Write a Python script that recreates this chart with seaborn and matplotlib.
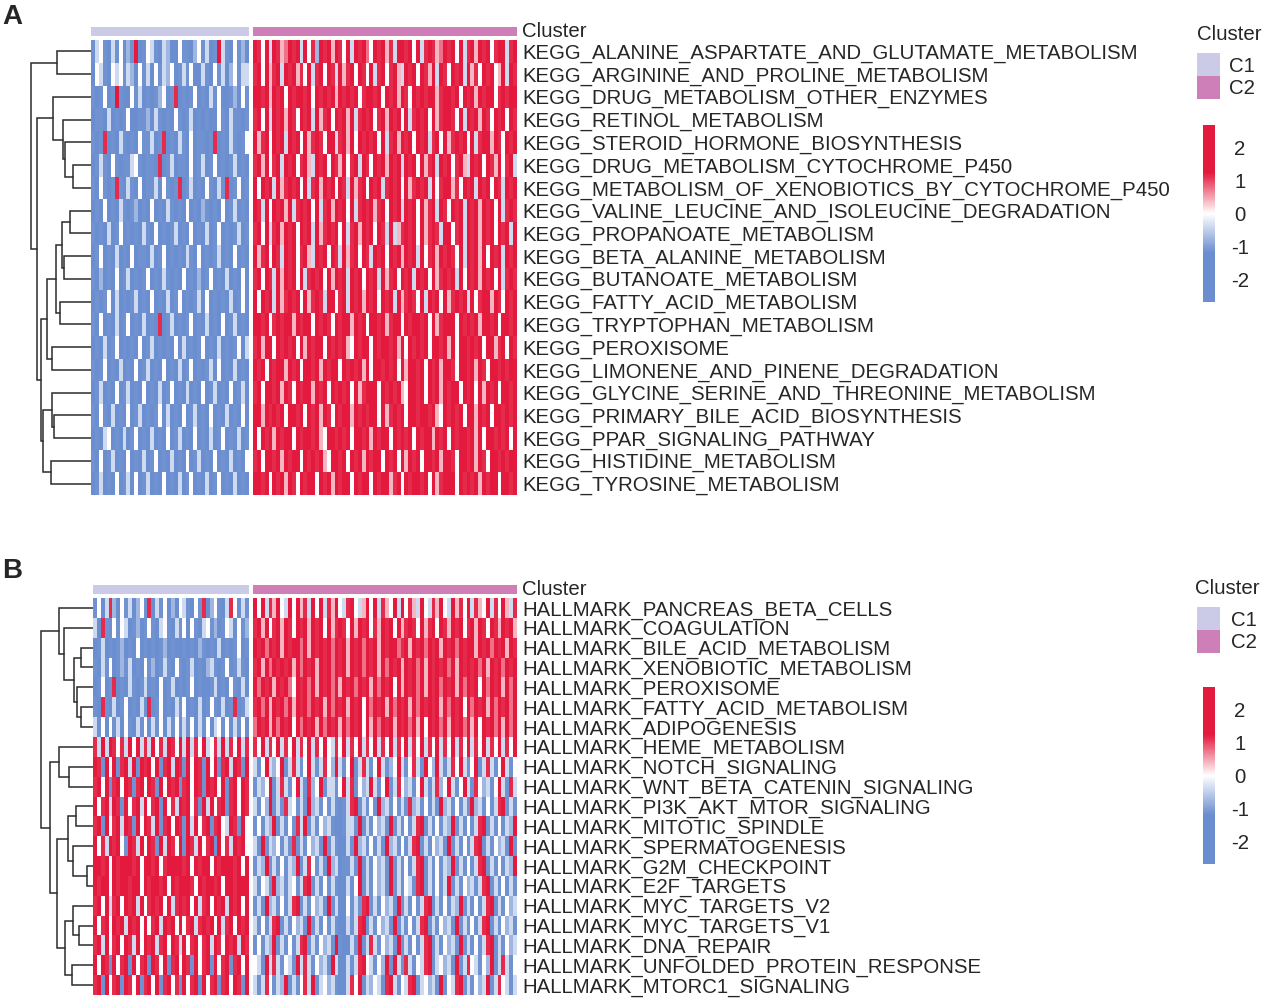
import numpy as np
import matplotlib
matplotlib.use("Agg")
import matplotlib.pyplot as plt
import seaborn as sns
from matplotlib.colors import LinearSegmentedColormap, ListedColormap, Normalize
from matplotlib.cm import ScalarMappable
from matplotlib.patches import Rectangle

# ---- data -------------------------------------------------------------
# cell values, one digit per sample column:
# digit d -> z = (d - 4) * 0.38, so 0 = deep blue, 4 = white, 8 = deep red
# (spaces only for reading)
kegg_names = [
    "KEGG_ALANINE_ASPARTATE_AND_GLUTAMATE_METABOLISM",
    "KEGG_ARGININE_AND_PROLINE_METABOLISM",
    "KEGG_DRUG_METABOLISM_OTHER_ENZYMES",
    "KEGG_RETINOL_METABOLISM",
    "KEGG_STEROID_HORMONE_BIOSYNTHESIS",
    "KEGG_DRUG_METABOLISM_CYTOCHROME_P450",
    "KEGG_METABOLISM_OF_XENOBIOTICS_BY_CYTOCHROME_P450",
    "KEGG_VALINE_LEUCINE_AND_ISOLEUCINE_DEGRADATION",
    "KEGG_PROPANOATE_METABOLISM",
    "KEGG_BETA_ALANINE_METABOLISM",
    "KEGG_BUTANOATE_METABOLISM",
    "KEGG_FATTY_ACID_METABOLISM",
    "KEGG_TRYPTOPHAN_METABOLISM",
    "KEGG_PEROXISOME",
    "KEGG_LIMONENE_AND_PINENE_DEGRADATION",
    "KEGG_GLYCINE_SERINE_AND_THREONINE_METABOLISM",
    "KEGG_PRIMARY_BILE_ACID_BIOSYNTHESIS",
    "KEGG_PPAR_SIGNALING_PATHWAY",
    "KEGG_HISTIDINE_METABOLISM",
    "KEGG_TYROSINE_METABOLISM",
]

kegg_c1 = [
    "1341031402 1801431032 0041102413 0183104120",
    "0431043413 2041304132 4013140031 0413024133",
    "1014018100 4130101240 1701014010 3140012041",
    "0110301014 0011203101 0410130101 0041031101",
    "1017010310 1041130170 1031040110 1701031014",
    "0131041011 3410110701 3011040130 1401013010",
    "1041017103 1040113041 0170130104 1031701401",
    "0104010310 1201040103 1010401021 0104013010",
    "1010301401 0103104010 1301040103 0140101301",
    "0140103010 4011030140 1010310401 0130104010",
    "1020104013 0101401031 0104010201 4010301040",
    "0101403010 1301040103 0140101304 0101030140",
    "1040103014 0103010701 3010140103 0104013010",
    "0103014010 1040130101 0403010140 1030101403",
    "1014010301 0401301040 1030140101 3040103010",
    "0130104013 0104010301 4010301040 1301040130",
    "1041030104 0130101403 0104013010 4010301040",
    "0103401030 1401030104 0130104010 3014010301",
    "1040130104 0103014010 3010401301 0401030104",
    "0130104013 0401301040 1030140103 0140103010",
]

kegg_c2 = [
    "8748387568 7838472878 5874838786 4878573887 8483787568 7848378587 84788378",
    "7848578387 8574837848 7385784874 8378478538 7848758387 4878385748 78458387",
    "8878587848 7887848787 8587878478 8784878587 4878788578 8784878587 88478788",
    "7848387858 7487838578 4878583787 8478587848 3787848578 8748387858 74878487",
    "8578487838 7848578748 8378584878 7848378587 8487837848 5787848378 85874878",
    "7858478387 8478538784 8758478387 4878587838 7848578387 8478538784 87584783",
    "8487838578 7848378587 8487385784 8783787848 5787838478 8574878387 84873878",
    "8738487858 3787848378 5878483787 8578487838 7848578387 4878387858 78483787",
    "7848378587 8487838578 7848378587 8487383578 7848578738 8478387858 78487838",
    "8578487387 8478538784 8738578487 3878487858 7838478587 8748387858 48783878",
    "7848738587 8483787848 5878387848 7838578487 8387848578 7838487858 78483787",
    "8487838578 7848578738 8478387858 7848783857 8748387848 5787838478 85874878",
    "8878478788 5878848787 4878858784 8878578848 7887848578 8848787858 87848878",
    "7858848787 8485878848 7878548788 4878878584 8787848878 5848878784 88578487",
    "8784878858 7848878587 8848787858 4887878485 8878487858 8748878587 48878788",
    "7848878587 4878858784 8787848578 8848787854 8878487858 7884878485 87848878",
    "8858787848 8784878587 4878858787 8848578784 8878878548 7878488587 84887878",
    "8487858788 4878878548 8787848878 5878848787 8487885878 4878878584 88787848",
    "7848878587 8848787854 8878487858 7884878485 8784887858 8748878587 48878788",
    "8878487858 7487884878 5878848788 4878857848 7887848578 8848787858 78848878",
]

# row tree (left child, right child, merge height); leaves 0..19, new nodes 20..
kegg_tree = [
    (0, 1, 34), (5, 6, 18), (4, 21, 26), (3, 22, 28), (2, 23, 38),
    (7, 8, 21), (9, 10, 27), (25, 26, 29.3), (11, 12, 31), (27, 28, 35),
    (13, 14, 39), (29, 30, 44.3), (16, 17, 37), (15, 32, 39), (18, 19, 40),
    (33, 34, 48.5), (31, 35, 50.3), (24, 36, 54.5), (20, 37, 60),
]

hallmark_names = [
    "HALLMARK_PANCREAS_BETA_CELLS",
    "HALLMARK_COAGULATION",
    "HALLMARK_BILE_ACID_METABOLISM",
    "HALLMARK_XENOBIOTIC_METABOLISM",
    "HALLMARK_PEROXISOME",
    "HALLMARK_FATTY_ACID_METABOLISM",
    "HALLMARK_ADIPOGENESIS",
    "HALLMARK_HEME_METABOLISM",
    "HALLMARK_NOTCH_SIGNALING",
    "HALLMARK_WNT_BETA_CATENIN_SIGNALING",
    "HALLMARK_PI3K_AKT_MTOR_SIGNALING",
    "HALLMARK_MITOTIC_SPINDLE",
    "HALLMARK_SPERMATOGENESIS",
    "HALLMARK_G2M_CHECKPOINT",
    "HALLMARK_E2F_TARGETS",
    "HALLMARK_MYC_TARGETS_V2",
    "HALLMARK_MYC_TARGETS_V1",
    "HALLMARK_DNA_REPAIR",
    "HALLMARK_UNFOLDED_PROTEIN_RESPONSE",
    "HALLMARK_MTORC1_SIGNALING",
]

hallmark_c1 = [
    "1403720413 0241703140 2043104170 2410374031",
    "3071041430 1201410341 0314041034 1201430412",
    "0130101201 0401010120 1001010210 1030101401",
    "1031401213 0104120131 0410130102 3101401310",
    "0140170103 1013010401 3010140100 1301041030",
    "1071030140 1031701401 0314010301 4103017013",
    "3140413041 0314031403 1403140314 0341403140",
    "7383874738 4837384738 7483837483 4738374837",
    "8718481783 8187848178 3871848718 4817838718",
    "7848178487 1784871848 7817848718 7848178487",
    "8478387184 7838478184 7387847183 8478178487",
    "7818478387 1848738178 4871838478 1784387184",
    "8473878418 7384871838 7481873847 8184738784",
    "8878487888 7848878478 8887848788 4878887848",
    "8788487887 8848788784 8788874878 8784887888",
    "7848378487 8384787848 3787848378 4878387848",
    "8478487838 7848478387 8484783787 8483784878",
    "7838478487 3848783784 8738478478 3874878387",
    "8487184781 8478187481 7848718478 1847817848",
    "7818478187 4817848178 4718478184 7817848718",
]

hallmark_c2 = [
    "8483758438 4857384837 5843784358 4837548384 7538437584 3857483754 83748537",
    "7858478587 4878587848 5787485878 4758784857 8748578487 5878478587 48758785",
    "8786878587 8868587878 6878587868 7858788678 5878687858 7868788587 86878587",
    "7858687878 5868785878 6878587868 7858687858 7868587878 6858787868 58786878",
    "8687858786 4878685878 6858786878 5868784858 7868587868 7858687848 68785868",
    "7868587868 5878687858 6878587848 6878586878 5868787858 6878486878 58687868",
    "6878586878 4868785868 7858687848 5868785878 6858487868 5878685848 78685868",
    "7483748374 8374837484 3748374837 4837483748 3748374837 4837483748 37483748",
    "3148324813 7314831374 2831481373 1483124831 4731842831 3748314813 73148314",
    "1324813731 4831724813 3148371423 8314813742 3148313724 8314831742 31483173",
    "3142813173 4131823141 3101378131 4182314131 7231413182 3141318231 41378131",
    "1413281314 1738131423 1001331813 1423181314 1378131413 2813141378 13141328",
    "3181324131 7131423181 3100318231 4131823141 3781314231 8131413781 31423181",
    "1328131413 2813741318 2301131813 1423181314 1378131413 2813141378 13141328",
    "3143182313 4137813141 3100314813 1423181314 3178131413 8131423137 81314131",
    "1318231413 7813142318 1300413178 1314231813 1413781314 1328131413 78131423",
    "3141378131 4231813141 3100313781 3142318131 4137813142 3181314137 81314231",
    "1413281314 1378131423 1810031813 7314231813 1413781314 2318131413 78131423",
    "4318373143 1837314231 8300313784 3142818317 3143781342 3181374314 28137314",
    "3137413281 3147381342 3100374813 2431783143 7813423181 4378131423 81374313",
]

hallmark_tree = [
    (2, 3, 12), (5, 6, 12), (4, 21, 16), (20, 22, 19), (1, 23, 29),
    (0, 24, 34), (8, 9, 24), (7, 26, 34), (10, 11, 17), (13, 14, 6),
    (12, 29, 20), (28, 30, 25), (16, 17, 14), (15, 32, 20), (18, 19, 21),
    (33, 34, 28), (31, 35, 36), (27, 36, 43), (25, 37, 52),
]

cluster_names = ["C1", "C2"]
cluster_colors = ["#CBCBE8", "#CF7FB7"]
legend_ticks = [-2, -1, 0, 1, 2]

# ---- style ------------------------------------------------------------
sns.set_style("white")
plt.rcParams["font.family"] = ["Liberation Sans", "DejaVu Sans"]
FS = 14.7

W, H = 1262, 999
fig = plt.figure(figsize=(W / 100, H / 100), dpi=100)

vmin, vmax = -2.7, 2.7
blue, red = "#6A8ECF", "#E3193D"
span = vmax - vmin
cmap = LinearSegmentedColormap.from_list(
    "bwr_sat",
    [(0, blue), ((-1.2 - vmin) / span, blue), (0.5, "#FFFFFF"),
     ((1.25 - vmin) / span, red), (1, red)],
)
annot_cmap = ListedColormap(cluster_colors)


def px_axes(x0, y0, x1, y1):
    # axes from pixel box (top-left origin)
    return fig.add_axes([x0 / W, 1 - y1 / H, (x1 - x0) / W, (y1 - y0) / H])


def decode(rows):
    rows = ["".join(r.split()) for r in rows]
    n = min(len(r) for r in rows)
    return np.array([[(int(ch) - 4) * 0.38 for ch in r[:n]] for r in rows])


def draw_dendrogram(ax, merges, n_leaves, max_h):
    ypos = {i: i + 0.5 for i in range(n_leaves)}
    hgt = {i: 0.0 for i in range(n_leaves)}
    for k, (a, b, h) in enumerate(merges):
        ya, yb = ypos[a], ypos[b]
        ax.plot([hgt[a], h, h, hgt[b]], [ya, ya, yb, yb], color="#2b2b2b",
                lw=1.1, clip_on=False, solid_joinstyle="miter")
        ypos[n_leaves + k] = (ya + yb) / 2
        hgt[n_leaves + k] = h
    ax.set_xlim(max_h, 0)
    ax.set_ylim(n_leaves, 0)
    ax.axis("off")


def draw_panel(letter, letter_y, top, bottom, den_left, hm_left, c1_rows, c2_rows,
               names, tree, leg):
    c1 = decode(c1_rows)
    c2 = decode(c2_rows)
    n_rows = c1.shape[0]
    split_l, split_r, right = 248.5, 253, 517

    fig.text(2 / W, 1 - letter_y / H, letter, fontsize=20, fontweight="bold",
             ha="left", va="center")

    # dendrogram
    ax_d = px_axes(den_left, top, hm_left, bottom)
    draw_dendrogram(ax_d, tree, n_rows, hm_left - den_left)

    # heatmap blocks
    ax1 = px_axes(hm_left, top, split_l, bottom)
    sns.heatmap(c1, ax=ax1, cmap=cmap, vmin=vmin, vmax=vmax, cbar=False,
                xticklabels=False, yticklabels=False)
    ax2 = px_axes(split_r, top, right, bottom)
    sns.heatmap(c2, ax=ax2, cmap=cmap, vmin=vmin, vmax=vmax, cbar=False,
                xticklabels=False, yticklabels=names)
    ax2.yaxis.tick_right()
    ax2.tick_params(axis="y", length=0, pad=3.6, labelsize=FS, labelrotation=0)

    # cluster annotation bar
    for ax_src, code, x0, x1 in [(c1, 0, hm_left, split_l), (c2, 1, split_r, right)]:
        ax_a = px_axes(x0, top - 13, x1, top - 4)
        sns.heatmap(np.full((1, ax_src.shape[1]), code), ax=ax_a, cmap=annot_cmap,
                    vmin=-0.5, vmax=1.5, cbar=False, xticklabels=False,
                    yticklabels=False)
    fig.text(522 / W, 1 - (top - 8.5) / H, "Cluster", fontsize=FS,
             ha="left", va="center")

    # legends
    fig.text(leg["title_x"] / W, 1 - leg["title_y"] / H, "Cluster", fontsize=FS,
             ha="left", va="center")
    ax_l = px_axes(1197, leg["sq_top"], 1220, leg["sq_top"] + 46)
    for i, (nm, col) in enumerate(zip(cluster_names, cluster_colors)):
        ax_l.add_patch(Rectangle((0, i), 1, 1, color=col, lw=0))
        fig.text(leg["lab_x"] / W, 1 - (leg["sq_top"] + 11.5 + 23 * i + 1.5) / H, nm,
                 fontsize=FS, ha="left", va="center")
    ax_l.set_xlim(0, 1)
    ax_l.set_ylim(2, 0)
    ax_l.axis("off")

    cax = px_axes(1203, leg["cb_top"], 1215, leg["cb_top"] + 177)
    cb = fig.colorbar(ScalarMappable(norm=Normalize(vmin, vmax), cmap=cmap), cax=cax)
    cb.outline.set_visible(False)
    cb.set_ticks(legend_ticks)
    cb.set_ticklabels([str(t) for t in legend_ticks])
    cax.tick_params(length=0, pad=18, labelsize=FS)
    for t in cax.get_yticklabels():
        t.set_ha("center")


draw_panel("A", 17, 40, 495, 28, 91, kegg_c1, kegg_c2, kegg_names, kegg_tree,
           dict(title_x=1197, title_y=34, sq_top=53, lab_x=1229, cb_top=125))
draw_panel("B", 571, 598, 995, 38, 93, hallmark_c1, hallmark_c2, hallmark_names,
           hallmark_tree,
           dict(title_x=1195, title_y=588, sq_top=607, lab_x=1231, cb_top=687))

fig.savefig("out.png", dpi=100)
